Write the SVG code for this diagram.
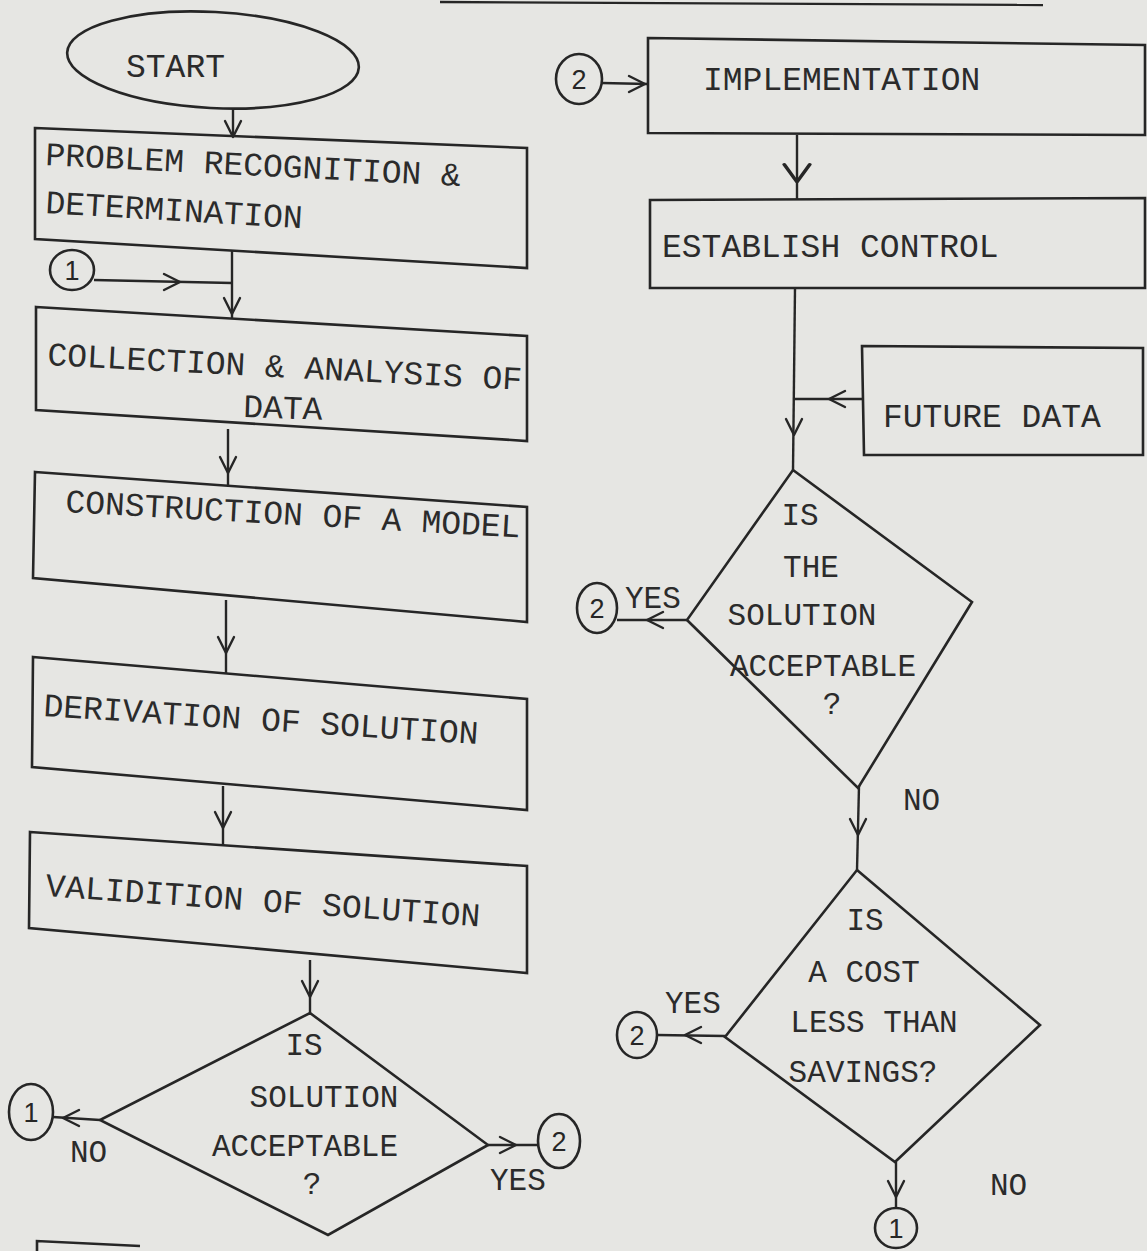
<svg xmlns="http://www.w3.org/2000/svg" xmlns:xlink="http://www.w3.org/1999/xlink" width="1147" height="1251" viewBox="0 0 1147 1251">
<style>
.bg{fill:#e6e6e3}
.box{fill:none;stroke:#262626;stroke-width:2.6;stroke-linejoin:miter}
.ln{fill:none;stroke:#262626;stroke-width:2.4}
.arr{fill:none;stroke:#262626;stroke-width:2.4;stroke-linecap:round;stroke-linejoin:round}
.t{font-family:"Liberation Mono","DejaVu Sans Mono",monospace;font-size:33px;fill:#2b2b2b}
.d{font-family:"Liberation Mono","DejaVu Sans Mono",monospace;font-size:31px;fill:#2b2b2b;text-anchor:middle}
.lb{font-family:"Liberation Mono","DejaVu Sans Mono",monospace;font-size:31px;fill:#2b2b2b}
.num{font-family:"Liberation Sans",Arial,sans-serif;font-size:27px;fill:#262626;text-anchor:middle}
.cir{fill:none;stroke:#262626;stroke-width:2.6}
</style>
<defs>
<path id="av" class="arr" d="M-8,-16 L0,0 L8,-16"/>
</defs>
<rect class="bg" x="0" y="0" width="1147" height="1251"/>
<line class="ln" x1="440" y1="2" x2="1043" y2="5" stroke-width="3"/>

<g id="start">
<ellipse class="box" cx="213" cy="60" rx="146" ry="48" transform="rotate(3 213 60)" stroke-width="3"/>
<text class="t" x="126" y="77">START</text>
</g>

<g id="problem">
<polygon class="box" points="35,128 527,148 527,268 35,239"/>
<text class="t" x="45" y="165" transform="rotate(2.9 45 165)">PROBLEM RECOGNITION &amp;</text>
<text class="t" x="45" y="213" transform="rotate(3.4 45 213)">DETERMINATION</text>
</g>

<g id="collection">
<polygon class="box" points="36,307 527,336 527,441 36,410"/>
<text class="t" x="47" y="365" transform="rotate(3 47 365)">COLLECTION &amp; ANALYSIS OF</text>
<text class="t" x="243" y="417" transform="rotate(2 243 417)">DATA</text>
</g>

<g id="construction">
<polygon class="box" points="35,472 527,507 527,622 33,578"/>
<text class="t" x="65" y="512" transform="rotate(3.2 65 512)">CONSTRUCTION OF A MODEL</text>
</g>

<g id="derivation">
<polygon class="box" points="33,657 527,699 527,810 32,767"/>
<text class="t" x="43" y="716" transform="rotate(3.7 43 716)">DERIVATION OF SOLUTION</text>
</g>

<g id="validation">
<polygon class="box" points="30,832 527,866 527,973 29,928"/>
<text class="t" x="45" y="896" transform="rotate(4 45 896)">VALIDITION OF SOLUTION</text>
</g>

<g id="decision1">
<polygon class="box" points="310,1013 488,1145 328,1235 100,1120"/>
<text class="d" x="304" y="1055">IS</text>
<text class="d" x="324" y="1107">SOLUTION</text>
<text class="d" x="305" y="1156">ACCEPTABLE</text>
<text class="d" x="312" y="1194">?</text>
</g>

<g id="implementation">
<polygon class="box" points="648,38 1145,45 1145,135 648,133"/>
<text class="t" x="703" y="90">IMPLEMENTATION</text>
</g>

<g id="control">
<polygon class="box" points="650,200 1145,198 1145,288 650,288"/>
<text class="t" x="662" y="257">ESTABLISH CONTROL</text>
</g>

<g id="future">
<polygon class="box" points="862,346 1143,348 1143,455 864,455"/>
<text class="t" x="883" y="427">FUTURE DATA</text>
</g>

<g id="decision2">
<polygon class="box" points="793,470 972,602 858,788 687,620"/>
<text class="d" x="800" y="525">IS</text>
<text class="d" x="811" y="577">THE</text>
<text class="d" x="802" y="625">SOLUTION</text>
<text class="d" x="823" y="676">ACCEPTABLE</text>
<text class="d" x="832" y="714">?</text>
</g>

<g id="decision3">
<polygon class="box" points="857,870 1040,1025 895,1162 725,1037"/>
<text class="d" x="865" y="930">IS</text>
<text class="d" x="864" y="982">A COST</text>
<text class="d" x="874" y="1032">LESS THAN</text>
<text class="d" x="863" y="1082">SAVINGS?</text>
</g>

<g id="conn-2-top">
<ellipse class="cir" cx="579" cy="79" rx="23" ry="25"/>
<text class="num" x="579" y="89">2</text>
</g>
<g id="conn-1-top">
<ellipse class="cir" cx="72" cy="270" rx="22" ry="20"/>
<text class="num" x="72" y="280">1</text>
</g>
<g id="conn-1-d1">
<ellipse class="cir" cx="31" cy="1112" rx="22" ry="28"/>
<text class="num" x="31" y="1122">1</text>
</g>
<g id="conn-2-d1">
<ellipse class="cir" cx="559" cy="1141" rx="21" ry="27"/>
<text class="num" x="559" y="1151">2</text>
</g>
<g id="conn-2-d2">
<ellipse class="cir" cx="597" cy="608" rx="20" ry="25"/>
<text class="num" x="597" y="618">2</text>
</g>
<g id="conn-2-d3">
<ellipse class="cir" cx="637" cy="1035" rx="20" ry="23"/>
<text class="num" x="637" y="1045">2</text>
</g>
<g id="conn-1-d3">
<ellipse class="cir" cx="896" cy="1228" rx="21" ry="20"/>
<text class="num" x="896" y="1238">1</text>
</g>

<g id="partial-box">
<polyline class="box" points="37,1251 37,1241 140,1246"/>
</g>

<g id="connectors">
<line class="ln" x1="233" y1="108" x2="233" y2="136"/>
<use xlink:href="#av" transform="translate(233,137)"/>
<line class="ln" x1="232" y1="251" x2="232" y2="319"/>
<use xlink:href="#av" transform="translate(232,314)"/>
<line class="ln" x1="94" y1="280" x2="232" y2="283"/>
<use xlink:href="#av" transform="translate(180,282) rotate(-90)"/>
<line class="ln" x1="228" y1="429" x2="228" y2="486"/>
<use xlink:href="#av" transform="translate(228,473)"/>
<line class="ln" x1="226" y1="600" x2="226" y2="674"/>
<use xlink:href="#av" transform="translate(226,653)"/>
<line class="ln" x1="223" y1="786" x2="223" y2="846"/>
<use xlink:href="#av" transform="translate(223,828)"/>
<line class="ln" x1="310" y1="960" x2="310" y2="1013"/>
<use xlink:href="#av" transform="translate(310,997)"/>
<line class="ln" x1="100" y1="1120" x2="53" y2="1117"/>
<use xlink:href="#av" transform="translate(63,1118) rotate(90)"/>
<line class="ln" x1="488" y1="1145" x2="538" y2="1145"/>
<use xlink:href="#av" transform="translate(516,1145) rotate(-90)"/>
<line class="ln" x1="602" y1="83" x2="648" y2="84"/>
<use xlink:href="#av" transform="translate(645,84) rotate(-90)"/>
<line class="ln" x1="797" y1="135" x2="797" y2="200"/>
<use xlink:href="#av" transform="translate(797,182) scale(1.6,1.1)"/>
<line class="ln" x1="795" y1="288" x2="793" y2="470"/>
<use xlink:href="#av" transform="translate(794,435)"/>
<line class="ln" x1="862" y1="399" x2="795" y2="399"/>
<use xlink:href="#av" transform="translate(829,399) rotate(90)"/>
<line class="ln" x1="687" y1="620" x2="617" y2="620"/>
<use xlink:href="#av" transform="translate(647,620) rotate(90)"/>
<line class="ln" x1="859" y1="786" x2="857" y2="870"/>
<use xlink:href="#av" transform="translate(858,835)"/>
<line class="ln" x1="725" y1="1036" x2="657" y2="1035"/>
<use xlink:href="#av" transform="translate(685,1035) rotate(90)"/>
<line class="ln" x1="896" y1="1162" x2="896" y2="1208"/>
<use xlink:href="#av" transform="translate(896,1197)"/>
<text class="lb" x="70" y="1162">NO</text>
<text class="lb" x="490" y="1190">YES</text>
<text class="lb" x="625" y="608">YES</text>
<text class="lb" x="903" y="810">NO</text>
<text class="lb" x="665" y="1013">YES</text>
<text class="lb" x="990" y="1195">NO</text>
</g>
</svg>
